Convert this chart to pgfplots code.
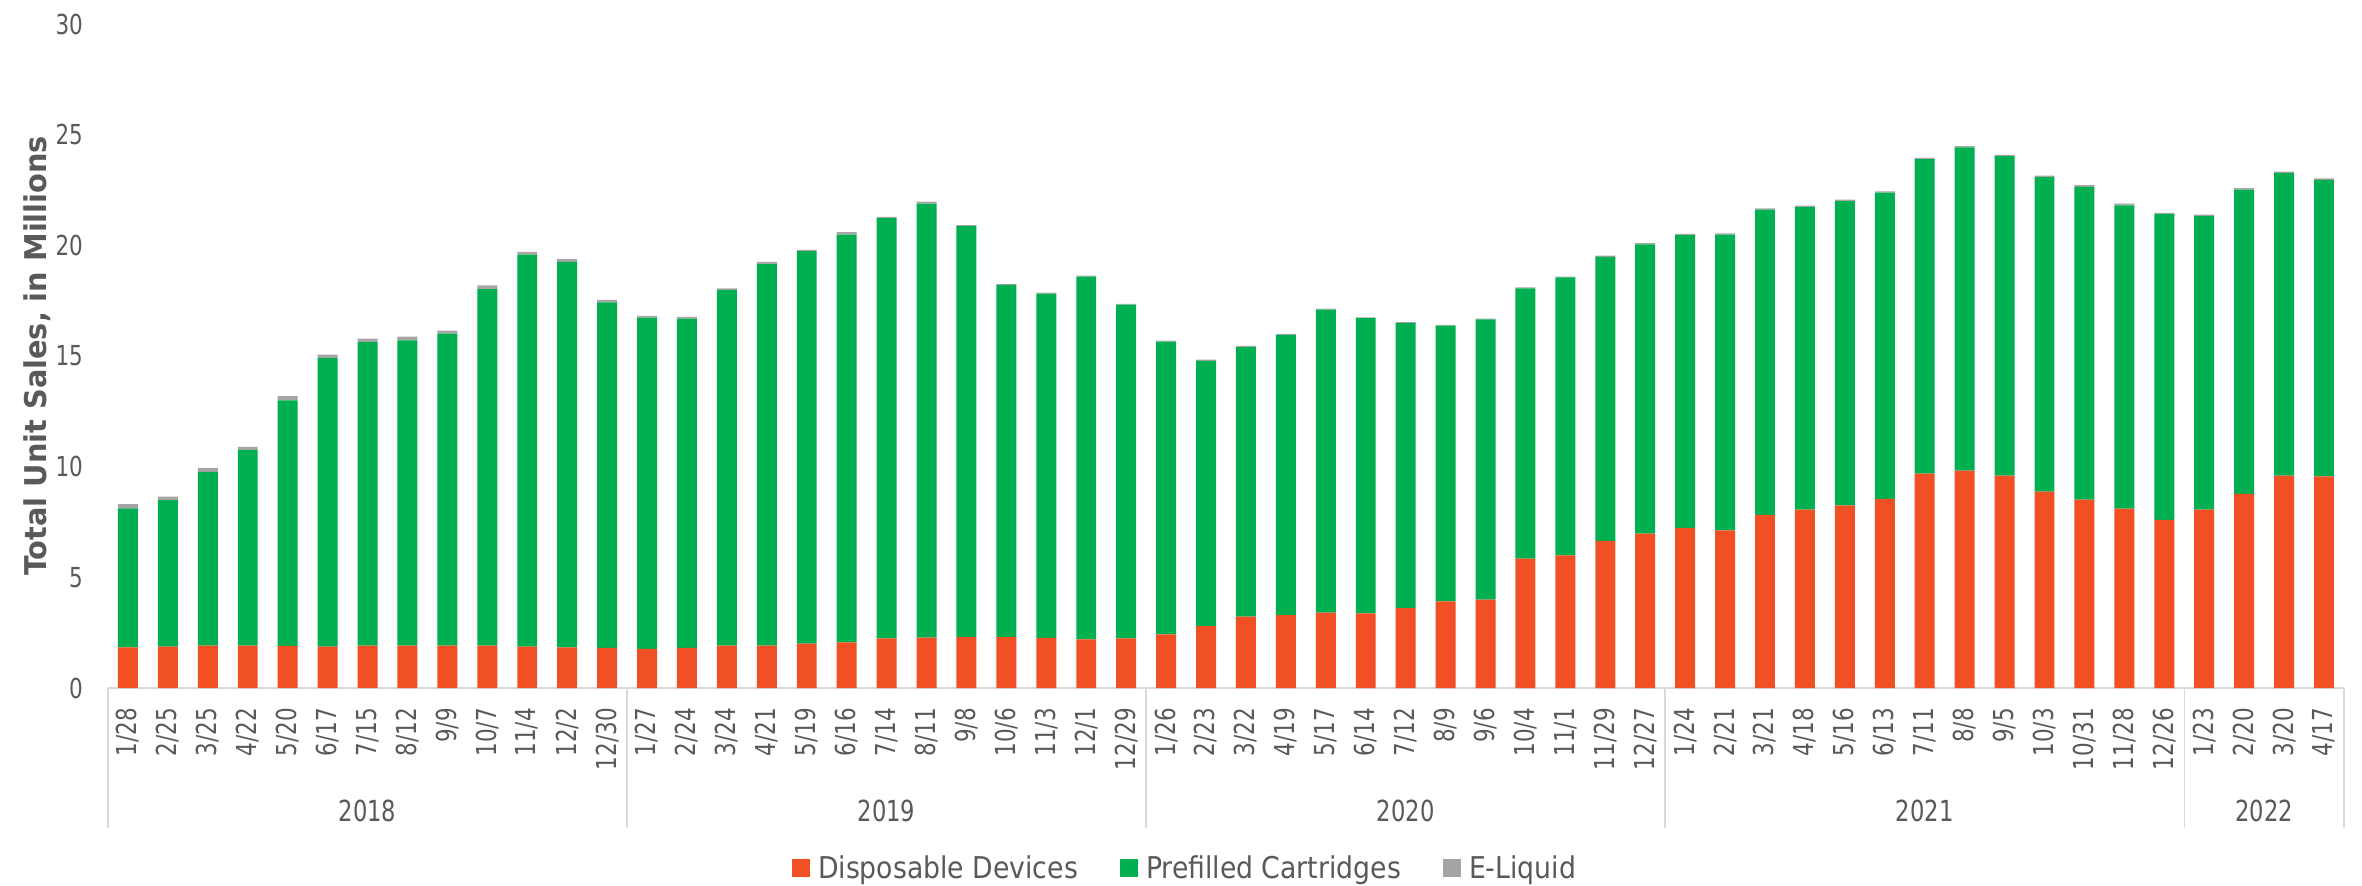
\documentclass[border=0pt]{standalone}
\usepackage{fontspec}
\setmainfont{DejaVu Sans}
\newfontfamily\tickfont{DejaVu Sans}[FakeStretch=0.78]
\newfontfamily\legfont{DejaVu Sans}[FakeStretch=0.89]
\newfontfamily\labfont{DejaVu Sans}[FakeStretch=0.96]
\usepackage{pgfplots}
\usepackage{pgfplotstable}
\pgfplotsset{compat=1.18}
\definecolor{disp}{HTML}{F05023}
\definecolor{cart}{HTML}{00AF50}
\definecolor{eliq}{HTML}{A5A5A5}
\definecolor{txt}{HTML}{595959}
\definecolor{axgray}{HTML}{D9D9D9}
\pgfplotstableread{
x D P E
0 1.83 6.29 0.19
1 1.87 6.62 0.16
2 1.92 7.84 0.18
3 1.92 8.83 0.14
4 1.90 11.10 0.19
5 1.87 13.05 0.14
6 1.92 13.71 0.16
7 1.92 13.79 0.16
8 1.92 14.09 0.14
9 1.92 16.10 0.17
10 1.87 17.71 0.12
11 1.83 17.42 0.13
12 1.81 15.61 0.12
13 1.77 14.96 0.08
14 1.81 14.88 0.08
15 1.92 16.06 0.08
16 1.92 17.23 0.10
17 2.00 17.74 0.06
18 2.06 18.42 0.12
19 2.24 18.99 0.06
20 2.28 19.60 0.10
21 2.30 18.57 0.04
22 2.30 15.91 0.04
23 2.26 15.56 0.04
24 2.20 16.39 0.04
25 2.24 15.08 0.04
26 2.42 13.23 0.04
27 2.80 11.98 0.06
28 3.23 12.17 0.06
29 3.29 12.66 0.04
30 3.41 13.69 0.04
31 3.37 13.34 0.04
32 3.61 12.88 0.04
33 3.91 12.46 0.04
34 3.99 12.66 0.04
35 5.85 12.21 0.04
36 5.99 12.56 0.04
37 6.65 12.83 0.06
38 6.98 13.06 0.06
39 7.24 13.22 0.06
40 7.12 13.36 0.06
41 7.82 13.79 0.06
42 8.06 13.67 0.06
43 8.25 13.75 0.06
44 8.55 13.83 0.06
45 9.68 14.21 0.06
46 9.82 14.60 0.06
47 9.60 14.43 0.06
48 8.87 14.21 0.07
49 8.51 14.13 0.08
50 8.10 13.71 0.07
51 7.60 13.81 0.06
52 8.06 13.27 0.06
53 8.77 13.75 0.06
54 9.60 13.67 0.06
55 9.56 13.40 0.06
}\datatable
\begin{document}
\begin{tikzpicture}
\begin{axis}[
  scale only axis,
  width=2236pt, height=664pt,
  xmin=-0.5, xmax=55.5,
  ymin=0, ymax=30,
  ybar stacked,
  bar width=0.5,
  clip=false,
  axis line style={draw=none},
  major tick length=0pt,
  ytick={0,5,...,30},
  xtick={0,...,55},
  xticklabels={1/28,2/25,3/25,4/22,5/20,6/17,7/15,8/12,9/9,10/7,11/4,12/2,12/30,
    1/27,2/24,3/24,4/21,5/19,6/16,7/14,8/11,9/8,10/6,11/3,12/1,12/29,
    1/26,2/23,3/22,4/19,5/17,6/14,7/12,8/9,9/6,10/4,11/1,11/29,12/27,
    1/24,2/21,3/21,4/18,5/16,6/13,7/11,8/8,9/5,10/3,10/31,11/28,12/26,
    1/23,2/20,3/20,4/17},
  /pgf/number format/assume math mode=true,
  yticklabel style={font=\tickfont\fontsize{27.5}{30}\selectfont, text=txt, anchor=east, inner sep=0pt},
  yticklabel shift=25pt,
  xticklabel style={font=\tickfont\fontsize{27.5}{30}\selectfont, text=txt, rotate=90, anchor=east, inner sep=0pt},
  xticklabel shift=20pt,
  ylabel={Total Unit Sales, in Millions},
  ylabel style={font=\labfont\bfseries\fontsize{30}{36}\selectfont, text=txt,
    at={(axis description cs:-0.0318,0.5)}, anchor=center, inner sep=0pt},
  legend columns=3,
  legend style={draw=none, fill=none, at={(0.4817,-0.271)}, anchor=center,
    font=\legfont\fontsize{30}{36}\selectfont, text=txt,
    /tikz/every odd column/.append style={column sep=6pt},
    /tikz/every even column/.append style={column sep=40pt}},
  legend image code/.code={\fill[#1] (0pt,-9pt) rectangle (18pt,9pt);},
]
\addplot[fill=disp, draw=none] table[x=x, y=D] {\datatable};
\addlegendentry{Disposable Devices}
\addplot[fill=cart, draw=none] table[x=x, y=P] {\datatable};
\addlegendentry{Prefilled Cartridges}
\addplot[fill=eliq, draw=none] table[x=x, y=E] {\datatable};
\addlegendentry{E-Liquid}
\draw[axgray, line width=1.5pt] (axis cs:-0.5,0) -- (axis cs:55.5,0);
\pgfplotsinvokeforeach{-0.5,12.5,25.5,38.5,51.5,55.5}{
  \draw[axgray, line width=1.5pt] (axis cs:#1,0) -- ++(0pt,-140pt);
}
\node[font=\tickfont\fontsize{29}{30}\selectfont, text=txt, inner sep=0pt, yshift=-123pt] at (axis cs:6,0) {2018};
\node[font=\tickfont\fontsize{29}{30}\selectfont, text=txt, inner sep=0pt, yshift=-123pt] at (axis cs:19,0) {2019};
\node[font=\tickfont\fontsize{29}{30}\selectfont, text=txt, inner sep=0pt, yshift=-123pt] at (axis cs:32,0) {2020};
\node[font=\tickfont\fontsize{29}{30}\selectfont, text=txt, inner sep=0pt, yshift=-123pt] at (axis cs:45,0) {2021};
\node[font=\tickfont\fontsize{29}{30}\selectfont, text=txt, inner sep=0pt, yshift=-123pt] at (axis cs:53.5,0) {2022};
\end{axis}
\pgfresetboundingbox
\path[use as bounding box] (-108pt,-198pt) rectangle (2254pt,688pt);
\end{tikzpicture}
\end{document}
